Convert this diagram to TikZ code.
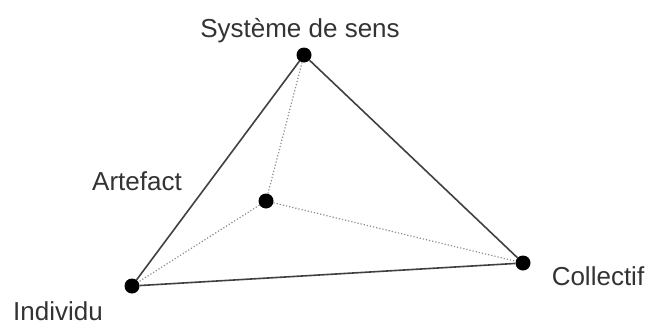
\documentclass[tikz,border=0pt]{standalone}
\usepackage{fontspec}
\setmainfont{Liberation Sans}
\begin{document}
\begin{tikzpicture}[x=1pt,y=-1pt,
  dot/.style={circle,fill=black,inner sep=0pt,minimum size=15pt},
  lbl/.style={anchor=base,inner sep=0pt,text=black!80,font=\fontsize{26}{30}\selectfont},
  edge/.style={draw=black!75,line width=1.6pt},
  hidden/.style={draw=black!45,line width=1.2pt,dotted}]
\useasboundingbox (0,0) rectangle (650,324);
\node[dot] (s) at (304,55) {};
\node[dot] (i) at (132,286) {};
\node[dot] (c) at (523,263) {};
\node[dot] (a) at (266,201) {};
\draw[hidden] (a) -- (s);
\draw[hidden] (a) -- (i);
\draw[hidden] (a) -- (c);
\draw[edge] (s) -- (i);
\draw[edge] (i) -- (c);
\draw[edge] (c) -- (s);
\node[lbl] (ls) at (300,37) {Système de sens};
\node[lbl] (la) at (137,190) {Artefact};
\node[lbl] (li) at (58,320) {Individu};
\node[lbl] (lc) at (598,285) {Collectif};
\end{tikzpicture}
\end{document}
